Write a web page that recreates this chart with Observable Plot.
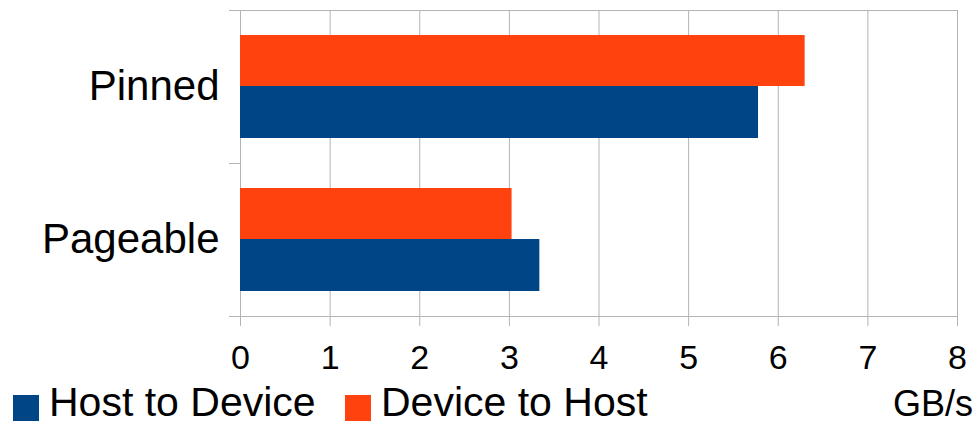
<!DOCTYPE html>
<html>
<head>
<meta charset="utf-8">
<script src="https://cdn.jsdelivr.net/npm/d3@7"></script>
<script src="https://cdn.jsdelivr.net/npm/@observablehq/plot@0.6"></script>
<style>
  body { margin: 0; background: #fff; font-family: "Liberation Sans", Arial, sans-serif; }
  #chart { width: 978px; height: 426px; position: relative; overflow: hidden; }
  .legend { position: relative; height: 46px; color: #000; }
  .legend .sw { position: absolute; top: 15px; width: 26px; height: 26px; }
  .legend .lbl { position: absolute; top: 5px; font-size: 41px; line-height: 34px; white-space: nowrap; }
  .legend .unit { position: absolute; top: 9px; right: 5px; font-size: 36px; line-height: 30px; white-space: nowrap; }
</style>
</head>
<body>
<div id="chart"></div>
<script>
// Transfer bandwidth by memory type
const categories = ["Pinned", "Pageable"];
const series = ["Host to Device", "Device to Host"];
const hostToDevice = [5.78, 3.34];
const deviceToHost = [6.30, 3.03];
const xTicks = [0, 1, 2, 3, 4, 5, 6, 7, 8];
const unitLabel = "GB/s";
const seriesColors = ["#004586", "#ff420e"];
const gridColor = "#b3b3b3";

const rows = categories.flatMap((category, i) => [
  {category, series: series[0], value: hostToDevice[i]},
  {category, series: series[1], value: deviceToHost[i]}
]);

// short outward ticks at the edges of each category band
function bandEdgeTicks(index, scales, values, dimensions) {
  const y = scales.y;
  const bw = y.bandwidth();
  const edges = Array.from(new Set(categories.flatMap(c => [y(c), y(c) + bw])));
  const g = d3.create("svg:g").attr("stroke", gridColor).attr("stroke-width", 1);
  for (const e of edges) {
    g.append("line")
      .attr("x1", dimensions.marginLeft - 11)
      .attr("x2", dimensions.marginLeft)
      .attr("y1", Math.round(e) + 0.5)
      .attr("y2", Math.round(e) + 0.5);
  }
  return g.node();
}

const plot = Plot.plot({
  width: 978,
  height: 380,
  marginLeft: 240,
  marginRight: 21,
  marginTop: 10,
  marginBottom: 64,
  style: {fontFamily: "'Liberation Sans', Arial, sans-serif", color: "#000", background: "#fff", overflow: "visible"},
  x: {domain: [0, 8], label: null},
  y: {type: "band", domain: categories, padding: 0, label: null},
  marks: [
    Plot.ruleX(xTicks, {x: d => d, stroke: gridColor}),
    Plot.frame({anchor: "top", stroke: gridColor}),
    Plot.frame({anchor: "bottom", stroke: gridColor}),
    bandEdgeTicks,
    Plot.barX(rows.filter(d => d.series === series[1]), {
      y: "category", x: "value", fill: seriesColors[1], insetTop: 25, insetBottom: 77
    }),
    Plot.barX(rows.filter(d => d.series === series[0]), {
      y: "category", x: "value", fill: seriesColors[0], insetTop: 76, insetBottom: 25
    }),
    Plot.axisX({ticks: xTicks, tickSize: 10, tickPadding: 18, stroke: gridColor, fill: "#000", fontSize: 34, label: null}),
    Plot.axisY({tickSize: 0, tickPadding: 21, fill: "#000", fontSize: 42, label: null})
  ]
});

const chart = document.getElementById("chart");
chart.appendChild(plot);

// legend row below the plot
const legend = d3.select(chart).append("div").attr("class", "legend");
const legendPos = [{sw: 13, lbl: 49}, {sw: 345, lbl: 381}];
series.forEach((s, i) => {
  legend.append("span").attr("class", "sw")
    .style("left", legendPos[i].sw + "px").style("background", seriesColors[i]);
  legend.append("span").attr("class", "lbl")
    .style("left", legendPos[i].lbl + "px").text(s);
});
legend.append("span").attr("class", "unit").text(unitLabel);
</script>
</body>
</html>
